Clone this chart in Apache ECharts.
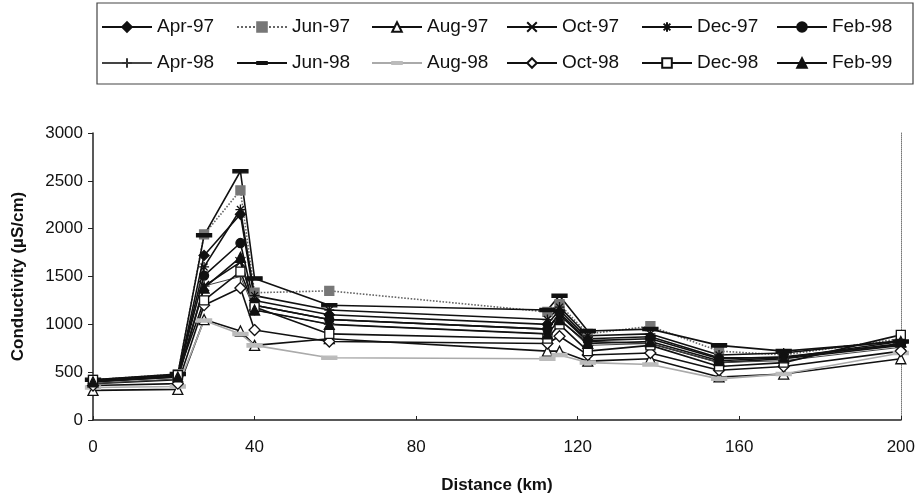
<!DOCTYPE html>
<html>
<head>
<meta charset="utf-8">
<script src="https://cdn.jsdelivr.net/npm/echarts@6/dist/echarts.min.js"></script>
<style>
  html, body { margin: 0; padding: 0; background: #fff; }
  #main { width: 918px; height: 499px; }
</style>
</head>
<body>
<div id="main"></div>
<script>
// sampling stations along the river (km)
var distances = [0, 21, 27.5, 36.5, 40, 58.5, 112.5, 115.5, 122.5, 138, 155, 171, 200];

var seriesNames = ['Apr-97', 'Jun-97', 'Aug-97', 'Oct-97', 'Dec-97', 'Feb-98',
                   'Apr-98', 'Jun-98', 'Aug-98', 'Oct-98', 'Dec-98', 'Feb-99'];

// conductivity (uS/cm) per campaign
var apr97 = [400, 450, 1720, 2150, 1250, 1100, 1000, 1150, 850, 870, 650, 650, 800];
var jun97 = [420, 480, 1940, 2400, 1330, 1350, 1130, 1210, 900, 980, 720, 680, 850];
var aug97 = [310, 320, 1050, 930, 780, 850, 720, 720, 615, 640, 450, 480, 640];
var oct97 = [380, 420, 1400, 1650, 1200, 1050, 950, 1100, 820, 800, 600, 640, 780];
var dec97 = [400, 460, 1600, 2200, 1300, 1150, 1050, 1180, 880, 900, 680, 700, 830];
var feb98 = [410, 470, 1510, 1850, 1200, 1050, 950, 1120, 830, 850, 640, 660, 790];
var apr98 = [380, 430, 1400, 1500, 1150, 1000, 900, 1050, 780, 800, 600, 620, 760];
var jun98 = [420, 480, 1930, 2600, 1480, 1200, 1150, 1300, 930, 950, 780, 720, 820];
var aug98 = [340, 350, 1040, 900, 780, 650, 640, 680, 600, 580, 430, 480, 700];
var oct98 = [360, 380, 1200, 1380, 940, 820, 800, 875, 680, 700, 520, 560, 720];
var dec98 = [420, 470, 1250, 1550, 1180, 900, 850, 1000, 720, 780, 560, 600, 890];
var feb99 = [400, 450, 1380, 1700, 1150, 1000, 900, 1050, 800, 820, 620, 650, 820];

var allValues = [apr97, jun97, aug97, oct97, dec97, feb98, apr98, jun98, aug98, oct98, dec98, feb99];

var yTicks = [0, 500, 1000, 1500, 2000, 2500, 3000];
var xTicks = [0, 40, 80, 120, 160, 200];

// short flat bar inside a square box, so it stays a dash everywhere
var DASH = 'path://M0,0L0.01,0M0,5.5L14,5.5L14,8.5L0,8.5ZM14,14L13.99,14';

// marker look for each campaign
var looks = [
  { symbol: 'diamond', size: 10, fill: '#111', stroke: '#111', line: '#111', type: 'solid', w: 1.6 },
  { symbol: 'rect', size: 9, fill: '#777', stroke: '#777', line: '#666', type: 'dotted', w: 1.6 },
  { symbol: 'triangle', size: 10, fill: '#fff', stroke: '#111', line: '#111', type: 'solid', w: 1.6 },
  { symbol: 'path://M0,0L10,10M10,0L0,10', size: 10, fill: 'none', stroke: '#111', line: '#111', type: 'solid', w: 1.6 },
  { symbol: 'path://M5,0L5,10M0,5L10,5M1.5,1.5L8.5,8.5M8.5,1.5L1.5,8.5', size: 10, fill: 'none', stroke: '#111', line: '#111', type: 'solid', w: 1.6 },
  { symbol: 'circle', size: 9, fill: '#111', stroke: '#111', line: '#111', type: 'solid', w: 1.6 },
  { symbol: 'path://M5,0L5,10M0,5L10,5', size: 11, fill: 'none', stroke: '#333', line: '#444', type: 'solid', w: 1 },
  { symbol: DASH, size: 15, fill: '#111', stroke: '#111', line: '#111', type: 'solid', w: 1.6 },
  { symbol: DASH, size: 15, fill: '#bbb', stroke: '#bbb', line: '#aaa', type: 'solid', w: 1.6 },
  { symbol: 'diamond', size: 11, fill: '#fff', stroke: '#111', line: '#111', type: 'solid', w: 1.6 },
  { symbol: 'rect', size: 9, fill: '#fff', stroke: '#111', line: '#111', type: 'solid', w: 1.6 },
  { symbol: 'triangle', size: 10, fill: '#111', stroke: '#111', line: '#111', type: 'solid', w: 1.6 }
];

var series = seriesNames.map(function (name, i) {
  var lk = looks[i];
  return {
    name: name,
    type: 'line',
    data: distances.map(function (d, j) { return [d, allValues[i][j]]; }),
    symbol: lk.symbol,
    symbolSize: lk.size,
    showAllSymbol: true,
    lineStyle: { color: lk.line, width: lk.w, type: lk.type },
    itemStyle: { color: lk.fill, borderColor: lk.stroke, borderWidth: 1.3, opacity: 1 },
    emphasis: { disabled: true },
    animation: false
  };
});

var chart = echarts.init(document.getElementById('main'), null, { renderer: 'canvas' });

chart.setOption({
  backgroundColor: '#fff',
  textStyle: { fontFamily: 'Liberation Sans, Arial, sans-serif', color: '#111' },
  legend: {
    data: seriesNames,
    left: 97,
    top: 3,
    width: 820,
    orient: 'horizontal',
    padding: [7, 4, 4, 4],
    itemGap: 2,
    itemWidth: 50,
    itemHeight: 12,
    borderColor: '#444',
    borderWidth: 1.2,
    inactiveColor: '#111',
    selectedMode: false,
    textStyle: { fontSize: 19, color: '#111', width: 77, lineHeight: 34 }
  },
  grid: { left: 93, right: 17, top: 133, bottom: 78, containLabel: false },
  xAxis: {
    type: 'value',
    min: 0,
    max: 200,
    interval: 40,
    name: 'Distance (km)',
    nameLocation: 'middle',
    nameGap: 57,
    nameTextStyle: { fontSize: 17, fontWeight: 'bold', color: '#111' },
    axisLine: { show: true, lineStyle: { color: '#222', width: 1.5 } },
    axisTick: { show: true, inside: true, length: 4, lineStyle: { color: '#222' } },
    axisLabel: {
      fontSize: 17, color: '#111', margin: 19,
      formatter: function (v) { return xTicks.indexOf(v) >= 0 ? String(v) : ''; }
    },
    splitLine: { show: false }
  },
  yAxis: [{
    type: 'value',
    min: 0,
    max: 3000,
    interval: 500,
    name: 'Conductivity (\u00b5S/cm)',
    nameLocation: 'middle',
    nameGap: 66,
    nameTextStyle: { fontSize: 17, fontWeight: 'bold', color: '#111' },
    axisLine: { show: true, lineStyle: { color: '#222', width: 1.5 } },
    axisTick: { show: true, length: 5, lineStyle: { color: '#222' } },
    axisLabel: {
      fontSize: 17, color: '#111', margin: 10,
      formatter: function (v) { return yTicks.indexOf(v) >= 0 ? String(v) : ''; }
    },
    splitLine: { show: false }
  }, {
    type: 'value',
    position: 'right',
    min: 0,
    max: 3000,
    interval: 500,
    axisLine: { show: true, lineStyle: { color: '#777', width: 1, type: 'dotted' } },
    axisTick: { show: false },
    axisLabel: { show: false },
    splitLine: { show: false }
  }],
  series: series
});
</script>
</body>
</html>
